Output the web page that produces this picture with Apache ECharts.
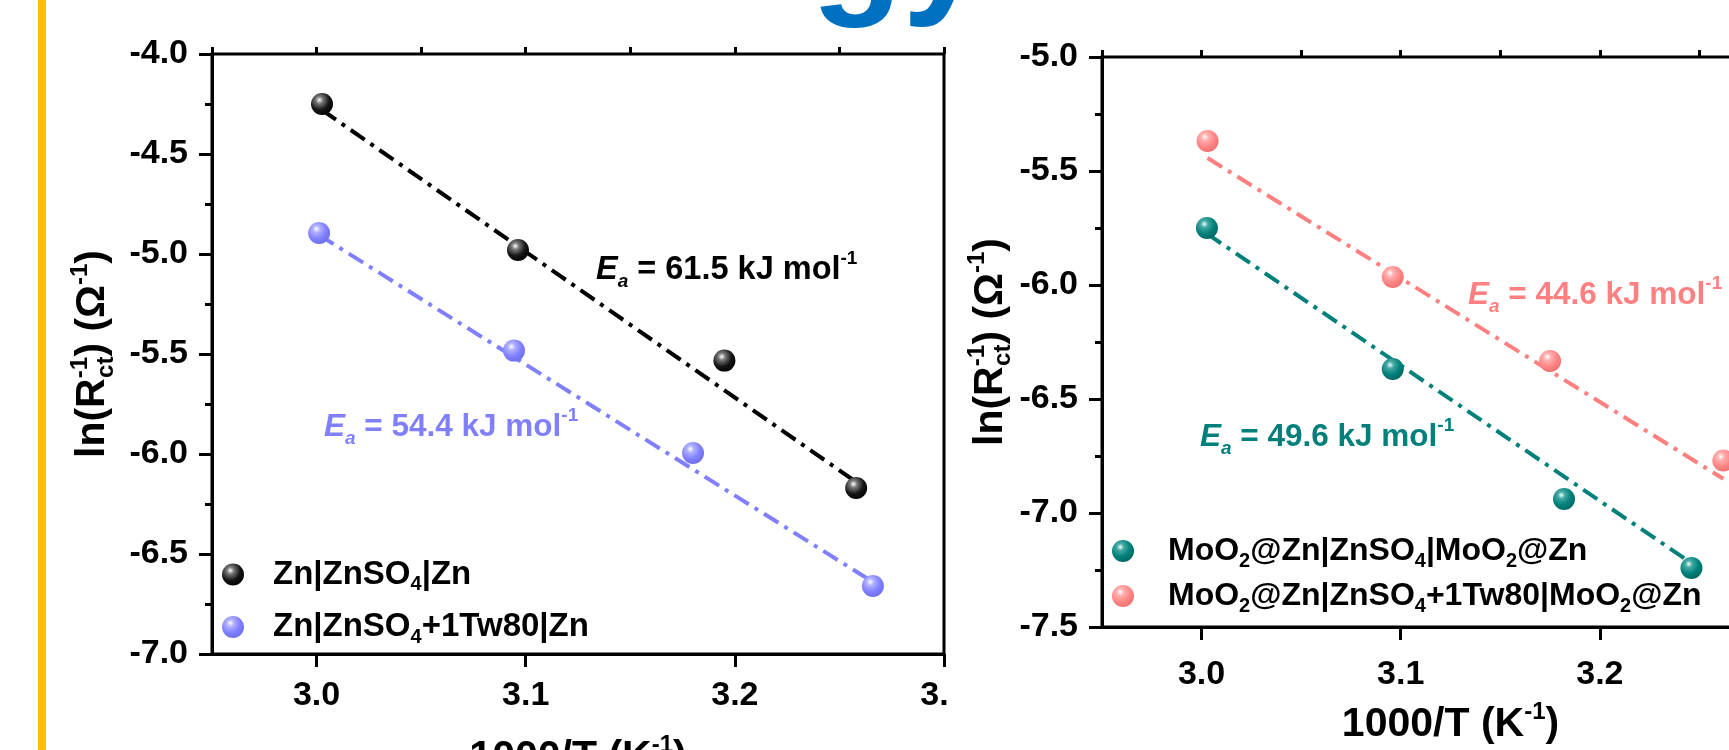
<!DOCTYPE html>
<html>
<head>
<meta charset="utf-8">
<script src="https://cdn.jsdelivr.net/npm/echarts@6/dist/echarts.min.js"></script>
<style>
html,body{margin:0;padding:0;background:#ffffff;}
#c{width:1729px;height:750px;}
</style>
</head>
<body>
<div id="c"></div>
<script>
// ---------- data ----------
const namesLeft = ['Zn|ZnSO4|Zn', 'Zn|ZnSO4+1Tw80|Zn'];
const namesRight = ['MoO2@Zn|ZnSO4|MoO2@Zn', 'MoO2@Zn|ZnSO4+1Tw80|MoO2@Zn'];

const xZn   = [3.0026, 3.0963, 3.195, 3.258];
const yZn   = [-4.25, -4.98, -5.533, -6.17];
const xZnTw = [3.0012, 3.0944, 3.18, 3.266];
const yZnTw = [-4.895, -5.483, -5.995, -6.66];

const xMo   = [3.0027, 3.096, 3.182, 3.246];
const yMo   = [-5.75, -6.368, -6.939, -7.241];
const xMoTw = [3.003, 3.096, 3.175, 3.262];
const yMoTw = [-5.368, -5.965, -6.333, -6.77];

// fitted lines: end points
const fitZnX   = [3.0026, 3.258];  const fitZnY   = [-4.28, -6.14];
const fitZnTwX = [3.0012, 3.266];  const fitZnTwY = [-4.905, -6.64];
const fitMoX   = [3.0027, 3.246];  const fitMoY   = [-5.775, -7.22];
const fitMoTwX = [3.003, 3.262];   const fitMoTwY = [-5.443, -6.85];

const eaValues = ['61.5', '54.4', '49.6', '44.6'];

const xMajorTicks = [3.0, 3.1, 3.2, 3.3];
const xRange = [2.95, 3.3];
const yRangeLeft = [-7.0, -4.0];
const yRangeRight = [-7.5, -5.0];

// ---------- helpers ----------
const FONT = '"Liberation Sans", Arial, sans-serif';
const pts = (xs, ys) => xs.map((x, i) => [x, ys[i]]);

function sphere(c0, c1, c2, c3) {
  return {
    type: 'radial', x: 0.38, y: 0.32, r: 0.75,
    colorStops: [
      { offset: 0, color: c0 },
      { offset: 0.22, color: c1 },
      { offset: 0.6, color: c2 },
      { offset: 1, color: c3 }
    ]
  };
}
const colBlack = sphere('#ffffff', '#777777', '#151515', '#000000');
const colBlue  = sphere('#ffffff', '#b0b0ff', '#8080ff', '#6c6ce6');
const colTeal  = sphere('#e8fffd', '#44a8a2', '#00807a', '#00635e');
const colPink  = sphere('#ffffff', '#ffb0b0', '#ff8585', '#ec6e6e');

const legendRich = {
  'Zn|ZnSO4|Zn': '{f|Zn|ZnSO}{b|4}{n||Zn}',
  'Zn|ZnSO4+1Tw80|Zn': '{f|Zn|ZnSO}{b|4}{n|+1Tw80|Zn}',
  'MoO2@Zn|ZnSO4|MoO2@Zn': '{f|MoO}{b|2}{n|@Zn|ZnSO}{b|4}{n||MoO}{b|2}{n|@Zn}',
  'MoO2@Zn|ZnSO4+1Tw80|MoO2@Zn': '{f|MoO}{b|2}{n|@Zn|ZnSO}{b|4}{n|+1Tw80|MoO}{b|2}{n|@Zn}'
};
function legendTextStyle(size, pad) {
  return {
    color: '#000', fontFamily: FONT, fontWeight: 'bold', fontSize: size,
    rich: {
      f: { fontFamily: FONT, fontWeight: 'bold', fontSize: size, lineHeight: 40, padding: [0, 0, 0, pad], color: '#000' },
      n: { fontFamily: FONT, fontWeight: 'bold', fontSize: size, lineHeight: 40, color: '#000' },
      b: { fontFamily: FONT, fontWeight: 'bold', fontSize: 20, lineHeight: 20, verticalAlign: 'bottom', color: '#000' }
    }
  };
}

const axisLineStyle = { color: '#000', width: 3 };
const tickLabel = { color: '#000', fontFamily: FONT, fontWeight: 'bold', fontSize: 34 };

const nameRich = {
  t: { fontFamily: FONT, fontWeight: 'bold', fontSize: 41, lineHeight: 50, color: '#000' },
  sup: { fontFamily: FONT, fontWeight: 'bold', fontSize: 24, lineHeight: 24, verticalAlign: 'top', color: '#000' },
  subStack: { fontFamily: FONT, fontWeight: 'bold', fontSize: 24, lineHeight: 24, verticalAlign: 'bottom', color: '#000', padding: [0, 0, 0, -21] },
  sup2: { fontFamily: FONT, fontWeight: 'bold', fontSize: 24, lineHeight: 24, verticalAlign: 'top', color: '#000' }
};
const yName = '{t|ln(R}{sup|-1}{subStack|ct}{t|) (Ω}{sup2|-1}{t|)}';
const xName = '{t|1000/T (K}{sup2|-1}{t|)}';

function xAxesFor(gi, gap, nameGap) {
  return [
    {
      type: 'value', gridIndex: gi, min: xRange[0], max: xRange[1],
      axisLine: { show: true, lineStyle: axisLineStyle, onZero: false },
      axisTick: { show: true, customValues: xMajorTicks, length: 13, lineStyle: { color: '#000', width: 3 } },
      axisLabel: { show: true, customValues: xMajorTicks, margin: gap, hideOverlap: false,
                   formatter: v => v.toFixed(1), ...tickLabel },
      splitLine: { show: false },
      name: xName, nameLocation: 'middle', nameGap: nameGap,
      nameTextStyle: { rich: nameRich }
    },
    {
      type: 'value', gridIndex: gi, min: xRange[0], max: xRange[1], interval: 0.05,
      axisLine: { show: false },
      axisTick: { show: true, length: 7, lineStyle: { color: '#000', width: 3 } },
      axisLabel: { show: false },
      splitLine: { show: false }
    }
  ];
}
function yAxisFor(gi, range, gap) {
  return {
    type: 'value', gridIndex: gi, min: range[0], max: range[1], interval: 0.5,
    axisLine: { show: true, lineStyle: axisLineStyle, onZero: false },
    axisTick: { show: true, length: 13, lineStyle: { color: '#000', width: 3 } },
    minorTick: { show: true, splitNumber: 2, length: 7, lineStyle: { color: '#000', width: 3 } },
    axisLabel: { margin: 24, formatter: v => v.toFixed(1), ...tickLabel },
    splitLine: { show: false }, minorSplitLine: { show: false },
    name: yName, nameLocation: 'middle', nameRotate: 90, nameGap: gap,
    nameTextStyle: { rich: nameRich }
  };
}

const dash = [17, 7, 4, 7];
function scatter(name, xi, yi, xs, ys, col) {
  return {
    type: 'scatter', name: name, xAxisIndex: xi, yAxisIndex: yi,
    data: pts(xs, ys), symbol: 'circle', symbolSize: 22, z: 5,
    itemStyle: { color: col, opacity: 1 }
  };
}
function fit(xi, yi, xs, ys, color) {
  return {
    type: 'line', xAxisIndex: xi, yAxisIndex: yi, data: pts(xs, ys),
    showSymbol: false, symbol: 'none', z: 3, silent: true,
    lineStyle: { color: color, width: 4, type: dash }
  };
}
function eaText(x, y, value, color, size) {
  const s = { fontFamily: FONT, fontWeight: 'bold', fill: color };
  return {
    type: 'text', left: x, top: y, z: 20,
    style: {
      text: '{e|E}{a|a}{t| = ' + value + ' kJ mol}{s|-1}',
      fill: color,
      rich: {
        e: { ...s, fontStyle: 'italic', fontSize: size, lineHeight: 42 },
        a: { ...s, fontStyle: 'italic', fontSize: 19, lineHeight: 19, verticalAlign: 'bottom' },
        t: { ...s, fontSize: size, lineHeight: 42 },
        s: { ...s, fontSize: 19, lineHeight: 19, verticalAlign: 'top' }
      }
    }
  };
}

const gridBase = { show: true, borderColor: '#000', borderWidth: 3, backgroundColor: 'transparent',
                   containLabel: false, outerBoundsMode: 'none' };

const chart = echarts.init(document.getElementById('c'), null, { renderer: 'canvas' });
chart.setOption({
  backgroundColor: '#ffffff',
  animation: false,
  grid: [
    { ...gridBase, left: 212, top: 54, width: 732, height: 600 },
    { ...gridBase, left: 1102, top: 57, width: 697, height: 570 }
  ],
  xAxis: [...xAxesFor(0, 25, 79), ...xAxesFor(1, 31, 73)],
  yAxis: [yAxisFor(0, yRangeLeft, 94), yAxisFor(1, yRangeRight, 69)],
  legend: [
    {
      data: namesLeft, left: 222, top: 558, orient: 'vertical', padding: 0, itemGap: 16,
      itemWidth: 22, itemHeight: 22, icon: 'circle', selectedMode: false,
      formatter: n => legendRich[n], textStyle: legendTextStyle(33, 24)
    },
    {
      data: namesRight, left: 1112, top: 535, orient: 'vertical', padding: 0, itemGap: 9,
      itemWidth: 22, itemHeight: 22, icon: 'circle', selectedMode: false,
      formatter: n => legendRich[n], textStyle: legendTextStyle(32, 29)
    }
  ],
  series: [
    fit(0, 0, fitZnX, fitZnY, '#000000'),
    fit(0, 0, fitZnTwX, fitZnTwY, '#8080ff'),
    scatter(namesLeft[0], 0, 0, xZn, yZn, colBlack),
    scatter(namesLeft[1], 0, 0, xZnTw, yZnTw, colBlue),
    fit(2, 1, fitMoX, fitMoY, '#00807a'),
    fit(2, 1, fitMoTwX, fitMoTwY, '#ff8080'),
    scatter(namesRight[0], 2, 1, xMo, yMo, colTeal),
    scatter(namesRight[1], 2, 1, xMoTw, yMoTw, colPink)
  ],
  graphic: [
    { type: 'rect', shape: { x: 38, y: 0, width: 8, height: 750 }, style: { fill: '#ffc000' }, z: 30 },
    { type: 'rect', shape: { x: 949, y: 662, width: 36, height: 60 }, style: { fill: '#ffffff' }, z: 30 },
    {
      type: 'text', z: 30,
      style: { text: 'Energy', x: 986, y: -45, align: 'right', verticalAlign: 'middle',
               font: 'bold 150px ' + FONT, fill: '#0070c0' }
    },
    eaText(596, 249, eaValues[0], '#000000', 32.5),
    eaText(324, 406, eaValues[1], '#8080ff', 31.5),
    eaText(1200, 416, eaValues[2], '#00807a', 31.5),
    eaText(1468, 274, eaValues[3], '#ff8080', 31.5)
  ]
});
</script>
</body>
</html>
